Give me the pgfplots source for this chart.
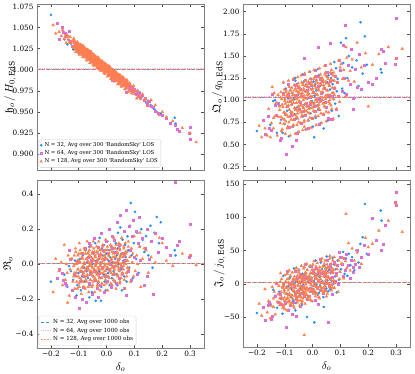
\documentclass[border=0pt]{standalone}
\usepackage{amssymb}
\usepackage{fontspec}
\setmainfont{DejaVu Serif}
\usepackage{pgfplots}
\pgfplotsset{compat=1.18}
\usepackage{pgfplotstable}

\definecolor{cblue}{HTML}{1E90FF}
\definecolor{cpink}{HTML}{DA70D6}
\definecolor{corange}{HTML}{FF7F50}
\definecolor{cframe}{HTML}{7F7F7F}

% columns: delta_o, h_o/H, Q_o/q, R_o, J_o/j
\pgfplotstableread{
d H Q R J
-0.200 1.065 0.65 -0.10 -44
-0.152 1.036 0.72 -0.06 -30
-0.141 1.030 0.99 -0.13 -9
-0.128 1.031 0.63 -0.04 -36
-0.120 1.024 0.94 -0.09 -12
-0.113 1.029 0.78 0.02 -23
-0.105 1.021 1.20 -0.12 12
-0.101 1.027 0.73 -0.05 -26
-0.096 1.020 1.13 0.03 3
-0.092 1.025 0.88 -0.15 -15
-0.088 1.018 1.02 -0.07 -4
-0.085 1.022 0.59 0.05 -39
-0.081 1.016 1.11 -0.02 9
-0.078 1.020 0.86 -0.10 -20
-0.075 1.019 0.95 0.08 -8
-0.072 1.014 1.08 -0.04 4
-0.070 1.021 0.70 0.01 -25
-0.067 1.017 1.01 -0.08 23
-0.064 1.013 0.84 -0.01 -13
-0.062 1.018 1.25 0.10 2
-0.060 1.012 0.79 -0.12 -29
-0.058 1.016 1.18 -0.05 3
-0.055 1.010 0.92 0.04 -25
-0.053 1.015 1.06 -0.16 -2
-0.051 1.011 0.64 0.00 -14
-0.049 1.014 1.15 -0.07 21
-0.047 1.009 0.90 0.06 -18
-0.045 1.013 0.98 -0.03 10
-0.043 1.007 1.12 -0.09 -7
-0.041 1.012 0.74 0.12 3
-0.039 1.010 1.04 -0.21 -32
-0.037 1.006 0.87 0.02 15
-0.035 1.011 1.29 -0.05 -13
-0.033 1.008 0.82 0.07 -2
-0.031 1.004 1.21 -0.11 10
-0.029 1.009 0.95 0.03 -18
-0.027 1.007 1.10 -0.04 29
-0.025 1.003 0.67 0.15 -7
-0.023 1.008 1.18 -0.08 8
-0.021 1.005 0.93 0.01 -23
-0.019 1.002 1.02 -0.13 9
-0.017 1.006 1.15 0.09 -20
-0.015 1.004 0.77 -0.02 4
-0.013 1.000 1.07 0.05 -8
-0.011 1.005 0.91 -0.06 26
-0.009 1.003 1.32 0.11 -12
-0.007 0.999 0.85 -0.10 16
-0.005 1.004 1.24 0.00 -2
-0.003 1.002 0.99 -0.15 9
-0.001 0.998 1.13 0.06 -26
0.001 1.003 0.70 -0.03 21
0.003 1.000 1.21 0.13 -8
0.005 0.997 0.97 -0.07 4
0.006 0.998 0.58 -0.05 -58
0.007 1.001 1.05 0.02 16
0.009 0.999 1.18 0.08 -13
0.011 0.996 0.80 -0.12 35
0.013 1.000 1.11 0.04 -1
0.017 0.994 0.94 0.10 14
0.019 0.997 1.35 -0.08 -17
0.021 0.995 0.89 0.01 15
0.023 0.993 1.28 0.16 -14
0.025 0.997 1.02 -0.04 10
0.027 0.992 1.16 0.07 -2
0.029 0.995 0.74 -0.10 32
0.031 0.991 1.25 0.03 -6
0.033 0.994 1.00 0.12 22
0.035 0.990 1.08 -0.06 4
0.037 0.993 1.22 0.05 15
0.039 0.989 0.84 -0.12 -20
0.041 0.992 1.14 0.18 27
0.043 0.988 0.97 0.00 -1
0.045 0.991 1.39 -0.08 10
0.047 0.987 0.92 0.09 22
0.049 0.990 1.31 0.21 -7
0.051 0.986 1.05 -0.03 41
0.053 0.989 1.20 0.06 5
0.055 0.985 0.77 -0.15 19
0.057 0.988 1.28 0.14 -11
0.060 0.984 1.04 0.02 21
0.063 0.987 1.12 -0.07 -8
0.066 0.983 1.25 0.11 16
0.069 0.986 0.88 0.04 4
0.072 0.981 1.18 -0.10 39
0.075 0.984 1.01 0.16 0
0.078 0.980 1.43 0.08 29
0.081 0.983 0.96 -0.02 11
0.084 0.978 1.36 0.22 22
0.087 0.981 1.10 0.35 -13
0.090 0.976 1.24 0.05 35
0.094 0.979 0.82 -0.08 6
0.098 0.974 1.33 0.12 18
0.102 0.977 1.65 0.30 22
0.106 0.972 1.13 0.03 30
0.110 0.975 1.42 0.18 48
0.115 0.970 1.08 -0.05 15
0.120 0.973 1.70 0.10 38
0.125 0.967 1.25 0.20 12
0.130 0.970 1.50 0.14 45
0.136 0.965 1.18 0.07 28
0.142 0.961 1.37 0.16 40
0.150 0.963 1.02 0.05 20
0.158 0.958 1.45 0.22 50
0.165 0.955 1.16 -0.02 32
0.172 0.953 1.88 0.18 60
0.180 0.950 1.30 0.27 70
0.188 0.947 1.72 0.12 120
0.195 0.948 1.40 0.24 45
0.245 0.943 1.35 0.08 110
0.248 0.936 1.31 0.05 95
-0.108 1.025 0.63 -0.18 -45
-0.135 1.035 1.00 -0.01 -18
-0.062 1.020 1.22 -0.19 -40
0.040 0.989 0.68 0.09 -35
-0.020 1.001 1.02 -0.21 -50
}\tblue

\pgfplotstableread{
d H Q R J
-0.155 1.045 0.68 -0.09 -28
-0.145 1.040 1.07 -0.12 -48
-0.170 1.036 0.62 -0.03 -54
-0.132 1.034 0.83 0.03 1
-0.125 1.028 0.97 -0.15 -27
-0.118 1.033 0.55 -0.06 -15
-0.112 1.026 0.57 -0.19 -30
-0.106 1.030 1.08 0.01 -1
-0.100 1.022 0.84 -0.25 -29
-0.095 1.029 0.39 -0.10 -65
-0.091 1.021 0.93 -0.04 19
-0.087 1.025 1.06 0.06 -16
-0.083 1.019 0.69 -0.13 -1
-0.080 1.024 0.99 -0.07 -32
-0.076 1.018 0.83 0.09 1
-0.073 1.022 0.48 -0.22 -45
-0.070 1.015 1.24 -0.02 -28
-0.067 1.020 0.78 0.04 -4
-0.064 1.016 1.17 -0.11 -16
-0.061 1.012 0.91 0.12 19
-0.058 1.018 1.06 -0.06 -20
-0.055 1.013 0.63 0.02 9
-0.052 1.010 1.15 -0.17 -9
-0.049 1.015 0.90 0.07 2
-0.046 1.011 0.98 -0.04 -33
-0.043 1.008 1.12 0.15 15
-0.040 1.013 0.74 -0.09 -14
-0.037 1.009 1.04 0.01 -3
-0.034 1.006 0.88 -0.14 10
-0.031 1.011 1.29 0.10 -19
-0.028 1.008 0.83 -0.05 29
-0.025 1.004 1.22 0.05 -7
-0.022 1.009 0.96 -0.12 8
-0.019 1.005 1.11 0.18 -23
-0.016 1.002 0.68 -0.02 10
-0.013 1.007 1.19 0.08 -19
-0.010 1.003 0.95 -0.16 5
-0.007 1.000 1.03 0.03 -7
-0.004 1.004 1.17 -0.07 27
-0.001 1.001 0.79 0.13 -11
0.002 0.998 1.09 -0.10 17
0.005 1.002 0.93 0.06 0
0.008 0.999 1.34 -0.03 10
0.011 0.995 0.87 0.20 -24
0.014 1.000 1.27 0.00 23
0.017 0.996 1.01 -0.13 -5
0.020 0.993 1.16 0.09 6
0.023 0.998 0.73 -0.06 18
0.026 0.994 1.24 0.14 -10
0.029 0.991 1.00 -0.01 37
0.032 0.996 1.08 0.07 2
0.035 0.992 1.21 -0.11 16
0.038 0.989 0.84 0.24 -14
0.041 0.994 1.14 0.03 18
0.044 0.990 0.98 -0.08 -10
0.047 0.987 1.39 0.11 13
0.050 0.991 0.92 0.28 2
0.053 0.986 1.32 -0.02 36
0.056 0.989 0.80 -0.05 -57
0.059 0.984 1.06 0.06 -2
0.062 0.987 1.21 -0.14 26
0.065 0.982 0.78 0.19 9
0.068 0.985 1.30 0.02 19
0.072 0.980 1.05 0.31 -15
0.076 0.983 1.14 -0.04 32
0.080 0.978 1.27 0.22 4
0.084 0.981 0.90 0.08 16
0.088 0.976 1.20 -0.09 28
0.092 0.979 1.04 0.16 0
0.096 0.974 1.45 0.25 47
0.100 0.977 1.34 0.04 40
0.105 0.971 1.10 0.19 30
0.110 0.974 1.62 -0.06 12
0.115 0.969 1.25 0.12 38
0.118 0.972 1.85 0.27 20
0.122 0.967 1.07 0.02 45
0.128 0.970 1.40 0.15 28
0.134 0.964 1.18 -0.12 8
0.140 0.966 1.58 0.09 35
0.146 0.961 1.02 0.20 18
0.152 0.963 1.35 0.03 30
0.160 0.957 1.15 0.13 50
0.168 0.955 1.52 -0.17 25
0.176 0.951 1.12 0.18 40
0.185 0.948 1.40 0.07 58
0.200 0.946 1.20 0.15 45
0.215 0.942 1.18 0.10 98
0.230 0.937 1.25 0.05 65
0.246 0.934 1.58 0.47 51
0.252 0.929 1.55 0.11 60
0.262 0.927 1.42 0.13 88
0.300 0.932 1.93 0.23 137
0.300 0.917 1.47 0.05 118
0.298 0.925 1.41 0.04 122
-0.160 1.050 0.82 -0.05 -32
-0.178 1.055 0.77 -0.08 -35
-0.135 1.046 0.94 0.08 -18
0.145 0.958 0.90 -0.07 25
-0.148 1.043 0.66 -0.11 -53
-0.088 1.028 1.18 -0.20 -40
-0.060 1.022 0.55 0.11 -48
0.020 0.987 1.60 0.16 -30
-0.030 1.002 1.47 -0.19 15
0.070 0.973 0.78 -0.18 10
0.065 0.984 1.64 0.05 30
}\tpink

\pgfplotstableread{
d H Q R J
-0.192 1.053 0.71 -0.16 -30
-0.183 1.043 0.58 0.03 -48
-0.171 1.045 0.68 -0.04 -8
-0.163 1.040 0.60 0.01 -43
-0.158 1.047 0.90 -0.12 -26
-0.152 1.037 0.58 0.11 -52
-0.148 1.040 0.74 -0.09 -33
-0.145 1.032 1.15 0.00 -5
-0.141 1.041 0.68 -0.05 -22
-0.138 1.036 1.08 0.05 -12
-0.134 1.032 0.82 -0.18 -46
-0.131 1.039 0.97 -0.03 1
-0.127 1.032 0.60 0.03 -27
-0.124 1.034 1.06 0.03 -16
-0.121 1.027 0.81 -0.10 -3
-0.118 1.037 0.89 -0.01 -32
-0.115 1.033 1.03 -0.05 16
-0.112 1.024 0.65 0.09 -20
-0.109 1.029 0.95 -0.07 -5
-0.107 1.026 0.79 0.00 -36
-0.105 1.033 1.20 -0.14 -4
-0.103 1.024 0.73 0.05 -32
-0.102 1.029 1.12 -0.03 -9
-0.101 1.020 0.86 0.02 -21
-0.099 1.030 1.01 -0.11 13
-0.098 1.026 0.62 0.12 -26
-0.096 1.022 1.09 -0.08 3
-0.095 1.030 0.84 0.01 -15
-0.094 1.023 0.92 -0.04 -5
-0.092 1.026 1.06 0.06 -40
-0.091 1.020 0.68 -0.17 7
-0.089 1.029 0.98 -0.02 -21
-0.088 1.026 0.81 0.04 -10
-0.087 1.018 1.22 0.03 2
-0.085 1.023 0.75 -0.10 -27
-0.084 1.020 1.15 -0.01 20
-0.083 1.028 0.89 -0.05 -15
-0.081 1.018 1.03 0.09 -1
-0.080 1.023 0.60 -0.07 -32
-0.079 1.015 1.11 0.00 0
-0.077 1.024 0.86 -0.14 -29
-0.076 1.020 0.95 0.06 -5
-0.074 1.016 1.08 -0.03 -17
-0.073 1.024 0.70 0.03 17
-0.072 1.018 1.00 -0.10 -22
-0.070 1.020 0.83 0.13 7
-0.069 1.014 1.24 -0.07 -11
-0.068 1.024 0.78 0.02 -1
-0.066 1.020 1.17 -0.03 -36
-0.065 1.012 0.91 0.07 11
-0.064 1.018 1.05 -0.16 -18
-0.062 1.014 0.62 -0.01 -6
-0.061 1.022 1.13 0.05 6
-0.060 1.013 0.89 0.04 -23
-0.058 1.017 0.97 -0.09 24
-0.057 1.009 1.10 0.00 -12
-0.056 1.019 0.72 -0.04 3
-0.055 1.014 1.02 0.10 -28
-0.054 1.011 0.85 -0.06 4
-0.053 1.019 1.26 0.01 -25
-0.053 1.013 0.79 -0.13 -2
-0.052 1.016 1.19 0.06 -14
-0.051 1.009 0.93 -0.02 20
-0.050 1.019 1.07 0.03 -19
-0.049 1.016 0.64 -0.10 10
-0.048 1.007 1.15 0.13 -8
-0.047 1.013 0.90 -0.07 2
-0.046 1.010 0.98 0.02 -33
-0.045 1.018 1.11 -0.03 14
-0.044 1.008 0.74 0.07 -15
-0.043 1.013 1.04 -0.16 -3
-0.042 1.005 0.87 -0.01 9
-0.041 1.015 1.28 0.05 -20
-0.040 1.010 0.81 0.04 27
-0.039 1.007 1.20 -0.09 -9
-0.038 1.015 0.94 0.00 5
-0.037 1.009 1.08 -0.04 -26
-0.036 1.011 0.66 0.10 7
-0.035 1.005 1.17 -0.06 -22
-0.034 1.015 0.92 0.01 1
-0.033 1.012 1.00 -0.13 -11
-0.032 1.003 1.13 0.06 23
-0.031 1.009 0.75 -0.02 -16
-0.030 1.006 1.05 0.03 13
-0.029 1.014 0.88 -0.10 -5
-0.028 1.004 1.30 0.13 5
-0.027 1.009 0.83 -0.07 -30
-0.026 1.001 1.22 0.03 17
-0.025 1.011 0.96 -0.03 -12
-0.024 1.006 1.10 0.08 -1
-0.023 1.003 0.67 -0.15 12
-0.022 1.011 1.18 0.00 -17
-0.021 1.004 0.93 0.06 30
-0.020 1.007 1.02 0.05 -6
-0.018 1.001 1.15 -0.08 8
-0.017 1.010 0.77 0.01 -23
-0.015 1.007 1.07 -0.03 10
-0.014 0.999 0.90 0.11 -19
-0.012 1.004 1.32 -0.05 4
-0.011 1.001 0.85 0.02 -8
-0.009 1.008 1.24 -0.12 27
-0.008 0.999 0.98 0.07 -12
-0.006 1.004 1.12 -0.01 16
-0.005 0.995 0.69 0.04 -2
-0.004 1.005 1.21 -0.09 8
-0.003 1.001 0.96 0.14 -26
-0.002 0.998 1.04 -0.06 21
-0.001 1.005 1.17 0.03 -8
0.001 0.999 0.79 -0.02 3
0.002 1.001 1.09 0.08 15
0.004 0.995 0.93 -0.15 -13
0.005 1.005 1.34 0.00 34
0.007 1.001 0.87 0.06 -2
0.008 0.993 1.26 0.05 12
0.010 0.998 1.00 -0.08 -19
0.011 0.995 1.14 0.01 14
0.013 1.003 0.72 -0.03 -15
0.014 0.993 1.23 0.11 8
0.016 0.998 0.98 -0.05 -4
0.017 0.990 1.06 0.02 31
0.019 0.999 1.19 -0.12 -8
0.020 0.995 0.82 0.07 20
0.022 0.991 1.12 -0.01 2
0.023 0.999 0.95 0.04 12
0.025 0.993 1.36 -0.09 -22
0.026 0.995 0.89 0.15 25
0.028 0.989 1.29 -0.05 -4
0.029 0.998 1.03 0.04 7
0.031 0.995 1.17 -0.01 20
0.032 0.987 0.74 0.09 -9
0.034 0.992 1.25 -0.14 38
0.035 0.989 1.00 0.01 2
0.037 0.996 1.09 0.07 17
0.038 0.987 1.22 0.06 -14
0.040 0.992 0.84 -0.07 18
0.041 0.983 1.14 0.02 -11
0.043 0.993 0.97 -0.02 12
0.044 0.989 1.39 0.12 1
0.045 0.985 0.92 -0.04 35
0.046 0.993 1.31 0.03 -4
0.047 0.987 1.05 -0.11 24
0.048 0.990 1.19 0.08 6
0.049 0.983 0.76 0.00 16
0.050 0.993 1.27 0.05 -19
0.052 0.990 1.03 -0.08 29
0.054 0.981 1.11 0.15 0
0.056 0.986 1.24 -0.05 11
0.058 0.983 0.86 0.04 24
0.060 0.990 1.17 -0.01 -5
0.062 0.981 1.00 0.09 42
0.064 0.985 1.41 -0.14 7
0.066 0.977 0.94 0.01 21
0.068 0.986 1.34 0.07 -10
0.070 0.982 1.08 0.06 23
0.072 0.978 1.22 -0.07 -6
0.074 0.986 0.79 0.02 17
0.076 0.979 1.31 -0.02 5
0.078 0.982 1.06 0.13 40
0.080 0.975 1.14 -0.03 1
0.083 0.984 1.27 0.04 29
0.086 0.981 0.90 -0.10 12
0.089 0.972 1.20 0.09 22
0.092 0.977 1.04 0.01 -12
0.094 0.974 1.45 0.06 35
0.097 0.981 0.98 -0.07 7
0.099 0.971 1.37 0.16 18
0.103 0.975 1.41 -0.04 30
0.108 0.966 1.24 0.05 39
0.112 0.975 1.34 0.00 8
0.118 0.969 1.04 0.10 34
0.123 0.965 1.48 -0.13 24
0.129 0.971 1.22 0.03 61
0.135 0.964 1.33 0.09 20
0.142 0.965 1.46 0.08 53
0.150 0.957 1.21 -0.05 35
0.160 0.964 1.65 0.04 47
0.175 0.958 1.37 0.01 30
0.190 0.946 1.53 0.15 69
0.215 0.944 1.40 0.02 60
0.238 0.939 1.52 -0.01 80
0.272 0.931 1.60 0.06 95
0.300 0.925 1.47 0.05 120
0.322 0.914 1.58 -0.005 78
-0.030 1.008 0.70 -0.10 -77
0.120 0.968 1.60 0.18 105
-0.140 1.040 0.80 -0.22 -35
0.200 0.950 0.93 0.12 55
-0.118 1.026 0.93 -0.07 -22
-0.116 1.035 0.74 0.05 3
-0.114 1.028 1.09 -0.14 -29
-0.113 1.031 0.81 0.00 -12
-0.111 1.021 1.01 0.07 7
-0.109 1.028 0.67 -0.05 -23
-0.107 1.032 0.92 -0.10 -6
-0.105 1.022 1.06 0.02 -34
-0.104 1.032 0.86 -0.03 -2
-0.102 1.025 0.78 -0.07 -13
-0.100 1.028 0.99 0.06 -38
-0.098 1.018 0.96 -0.13 2
-0.096 1.025 0.76 0.01 -15
-0.095 1.029 1.11 0.08 -6
-0.093 1.019 0.83 -0.04 -23
-0.091 1.029 1.04 -0.09 15
-0.089 1.021 0.70 0.03 -28
-0.087 1.025 0.94 -0.02 -17
-0.086 1.015 1.08 -0.06 7
-0.084 1.022 0.89 0.06 -25
-0.082 1.026 0.81 -0.13 -7
-0.080 1.016 1.02 0.01 12
-0.078 1.026 0.98 0.08 -19
-0.077 1.018 0.78 -0.04 -2
-0.075 1.022 1.14 -0.09 -29
-0.073 1.011 0.86 0.03 3
-0.071 1.019 1.06 -0.02 -9
-0.069 1.022 0.72 -0.06 -33
-0.068 1.013 0.97 0.06 7
-0.066 1.023 1.11 -0.13 -11
-0.064 1.015 0.91 0.01 -2
-0.062 1.019 0.83 0.08 -18
-0.060 1.008 1.05 -0.04 20
-0.059 1.016 1.01 -0.09 -24
-0.057 1.019 0.81 0.04 -13
-0.055 1.010 1.16 -0.01 12
-0.053 1.019 0.88 -0.05 -20
-0.051 1.012 1.09 0.07 -3
-0.050 1.016 0.75 -0.12 17
-0.048 1.005 0.99 0.02 -14
-0.046 1.013 1.13 0.09 3
-0.044 1.016 0.94 -0.03 -25
-0.042 1.007 0.86 -0.08 8
-0.041 1.016 1.07 0.04 -4
-0.039 1.009 1.03 -0.01 -29
-0.037 1.012 0.83 -0.05 11
-0.035 1.002 1.19 0.07 -6
-0.033 1.009 0.91 -0.12 3
-0.032 1.013 1.11 0.02 -14
-0.030 1.004 0.77 0.09 25
-0.028 1.013 1.02 -0.03 -19
-0.026 1.006 1.16 -0.08 -8
-0.024 1.009 0.96 0.04 16
-0.023 0.999 0.88 -0.01 -15
-0.021 1.006 1.09 -0.05 2
-0.019 1.010 1.06 0.08 21
-0.017 1.000 0.86 -0.11 -10
-0.015 1.010 1.21 0.03 8
-0.014 1.003 0.93 0.10 -20
-0.012 1.006 1.14 -0.02 12
-0.010 0.996 0.80 -0.07 1
-0.008 1.003 1.04 0.05 -24
-0.006 1.007 1.18 0.00 16
-0.005 0.997 0.98 -0.04 -2
-0.003 1.007 0.91 0.08 8
-0.001 0.999 1.12 -0.11 -9
0.001 1.003 1.08 0.03 29
0.003 0.992 0.88 0.10 -15
0.004 1.000 1.24 -0.02 -3
0.006 1.004 0.96 -0.07 21
0.008 0.994 1.16 0.05 -11
0.010 1.004 0.82 0.00 7
0.012 0.996 1.07 -0.04 26
0.013 1.000 1.21 0.08 -5
0.015 0.989 1.01 -0.11 12
0.017 0.997 0.93 0.03 -15
0.019 1.000 1.14 0.10 17
0.021 0.991 1.11 -0.02 5
0.022 1.000 0.91 -0.06 -20
0.024 0.993 1.26 0.06 21
0.026 0.997 0.98 0.01 3
0.028 0.986 1.19 -0.03 12
0.030 0.994 0.85 0.09 -5
0.031 0.997 1.09 -0.10 34
0.033 0.988 1.23 0.04 -10
0.035 0.997 1.03 0.11 1
0.037 0.990 0.96 -0.01 26
0.039 0.993 1.17 -0.06 -6
0.040 0.983 1.13 0.06 11
0.042 0.991 0.93 0.01 30
0.044 0.994 1.29 -0.03 0
0.046 0.985 1.01 0.09 17
0.048 0.994 1.21 -0.10 -11
0.049 0.987 0.87 0.04 21
0.051 0.990 1.11 0.11 10
0.053 0.980 1.26 -0.01 -15
0.055 0.987 1.06 -0.06 25
0.057 0.991 0.98 0.06 8
0.058 0.982 1.19 0.01 17
0.060 0.991 1.16 -0.03 0
0.062 0.984 0.96 0.10 38
0.064 0.987 1.31 -0.09 -5
0.066 0.977 1.03 0.05 6
0.067 0.984 1.23 0.12 30
0.069 0.988 0.90 0.00 -2
0.071 0.978 1.14 -0.05 16
0.073 0.988 1.28 0.07 35
0.075 0.980 1.08 0.02 4
0.076 0.984 1.01 -0.02 21
0.078 0.974 1.22 0.10 -6
}\torange

\pgfplotsset{
  panel/.style={
    scale only axis, width=167pt, height=166pt,
    xmin=-0.25, xmax=0.35,
    xtick={-0.2,-0.1,0,0.1,0.2,0.3},
    tick align=inside, major tick length=3pt,
    axis line style={cframe},
    every tick/.style={black!70, line width=0.5pt},
    tick label style={font=\fontsize{7.3}{8}\selectfont},
    label style={font=\fontsize{11}{12}\selectfont},
    ylabel style={at={(axis description cs:#1,0.5)}, anchor=center},
  },
  sblue/.style={only marks, mark=*, mark size=1.1pt, color=cblue},
  spink/.style={only marks, mark=square*, mark size=1pt, color=cpink},
  sorange/.style={only marks, mark=triangle*, mark size=1.55pt, color=corange},
  lblue/.style={cblue, densely dashed, line width=0.5pt},
  lpink/.style={cpink, densely dotted, line width=1.3pt, opacity=0.5},
  lorange/.style={corange, dash pattern=on 2pt off 1pt, line width=0.6pt, opacity=0.8},
  lineleg/.style={legend image code/.code={\draw[##1] (0pt,0pt) -- (10pt,0pt);}},
}

\begin{document}
\begin{tikzpicture}
\useasboundingbox (0,0) rectangle (415pt,374pt);

% top left
\begin{axis}[panel=-0.16, at={(37pt,204pt)}, anchor=south west,
  ymin=0.881, ymax=1.078,
  ytick={0.900,0.925,0.950,0.975,1.000,1.025,1.050,1.075},
  yticklabels={0.900,0.925,0.950,0.975,1.000,1.025,1.050,1.075},
  xticklabels={},
  ylabel={$\mathfrak{h}_o\,/\,H_{0,\,\mathrm{EdS}}$},
  legend style={at={(0.01,0.015)}, anchor=south west, draw=black!20,
    rounded corners=1.5pt, fill=white, fill opacity=0.8, text opacity=1,
    font=\fontsize{5.4}{6}\selectfont, inner sep=1pt, row sep=-1.5pt,
    cells={anchor=west}},
]
\addplot[lblue, forget plot] coordinates {(-0.25,1.000) (0.35,1.000)};
\addplot[lpink, forget plot] coordinates {(-0.25,1.001) (0.35,1.001)};
\addplot[lorange, forget plot] coordinates {(-0.25,1.001) (0.35,1.001)};
\addplot[sblue] table[x=d, y=H] {\tblue};
\addlegendentry{N = 32, Avg over 300 \textquotesingle RandomSky\textquotesingle\ LOS}
\addplot[spink] table[x=d, y=H] {\tpink};
\addlegendentry{N = 64, Avg over 300 \textquotesingle RandomSky\textquotesingle\ LOS}
\addplot[sorange] table[x=d, y=H] {\torange};
\addlegendentry{N = 128, Avg over 300 \textquotesingle RandomSky\textquotesingle\ LOS}
\end{axis}

% top right
\begin{axis}[panel=-0.15, at={(243pt,204pt)}, anchor=south west,
  ymin=0.21, ymax=2.087,
  ytick={0.25,0.5,0.75,1.0,1.25,1.5,1.75,2.0},
  yticklabels={0.25,0.50,0.75,1.00,1.25,1.50,1.75,2.00},
  xticklabels={},
  ylabel={$\mathfrak{Q}_o\,/\,q_{0,\,\mathrm{EdS}}$},
]
\addplot[lblue] coordinates {(-0.25,1.033) (0.35,1.033)};
\addplot[lpink] coordinates {(-0.25,1.034) (0.35,1.034)};
\addplot[lorange] coordinates {(-0.25,1.034) (0.35,1.034)};
\addplot[sblue] table[x=d, y=Q] {\tblue};
\addplot[spink] table[x=d, y=Q] {\tpink};
\addplot[sorange] table[x=d, y=Q] {\torange};
\end{axis}

% bottom left
\begin{axis}[panel=-0.174, at={(37pt,26pt)}, anchor=south west, height=168pt,
  ymin=-0.48, ymax=0.482,
  ytick={-0.4,-0.2,0,0.2,0.4},
  yticklabels={−0.4,−0.2,0.0,0.2,0.4},
  xticklabels={−0.2,−0.1,0.0,0.1,0.2,0.3},
  xlabel={$\delta_o$},
  xlabel style={at={(axis description cs:0.5,-0.115)}, anchor=center},
  ylabel={$\mathfrak{R}_o$},
  legend style={at={(0.01,0.015)}, anchor=south west, draw=black!20,
    rounded corners=1.5pt, fill=white, fill opacity=0.8, text opacity=1,
    font=\fontsize{5.6}{6.5}\selectfont, inner sep=1pt, row sep=-1pt,
    cells={anchor=west}},
]
\addplot[lblue, lineleg] coordinates {(-0.25,0.003) (0.35,0.003)};
\addlegendentry{N = 32, Avg over 1000 obs}
\addplot[lpink, lineleg] coordinates {(-0.25,0.004) (0.35,0.004)};
\addlegendentry{N = 64, Avg over 1000 obs}
\addplot[lorange, lineleg] coordinates {(-0.25,0.004) (0.35,0.004)};
\addlegendentry{N = 128, Avg over 1000 obs}
\addplot[sblue, forget plot] table[x=d, y=R] {\tblue};
\addplot[spink, forget plot] table[x=d, y=R] {\tpink};
\addplot[sorange, forget plot] table[x=d, y=R] {\torange};
\end{axis}

% bottom right
\begin{axis}[panel=-0.14, at={(243pt,27pt)}, anchor=south west, width=167pt, height=167pt,
  ymin=-95, ymax=156,
  ytick={-50,0,50,100,150},
  yticklabels={−50,0,50,100,150},
  xticklabels={−0.2,−0.1,0.0,0.1,0.2,0.3},
  xlabel={$\delta_o$},
  xlabel style={at={(axis description cs:0.5,-0.115)}, anchor=center},
  ylabel={$\mathfrak{J}_o\,/\,j_{0,\,\mathrm{EdS}}$},
]
\addplot[lblue] coordinates {(-0.25,1.9) (0.35,1.9)};
\addplot[lpink] coordinates {(-0.25,2.1) (0.35,2.1)};
\addplot[lorange] coordinates {(-0.25,2.1) (0.35,2.1)};
\addplot[sblue] table[x=d, y=J] {\tblue};
\addplot[spink] table[x=d, y=J] {\tpink};
\addplot[sorange] table[x=d, y=J] {\torange};
\end{axis}
\end{tikzpicture}
\end{document}
